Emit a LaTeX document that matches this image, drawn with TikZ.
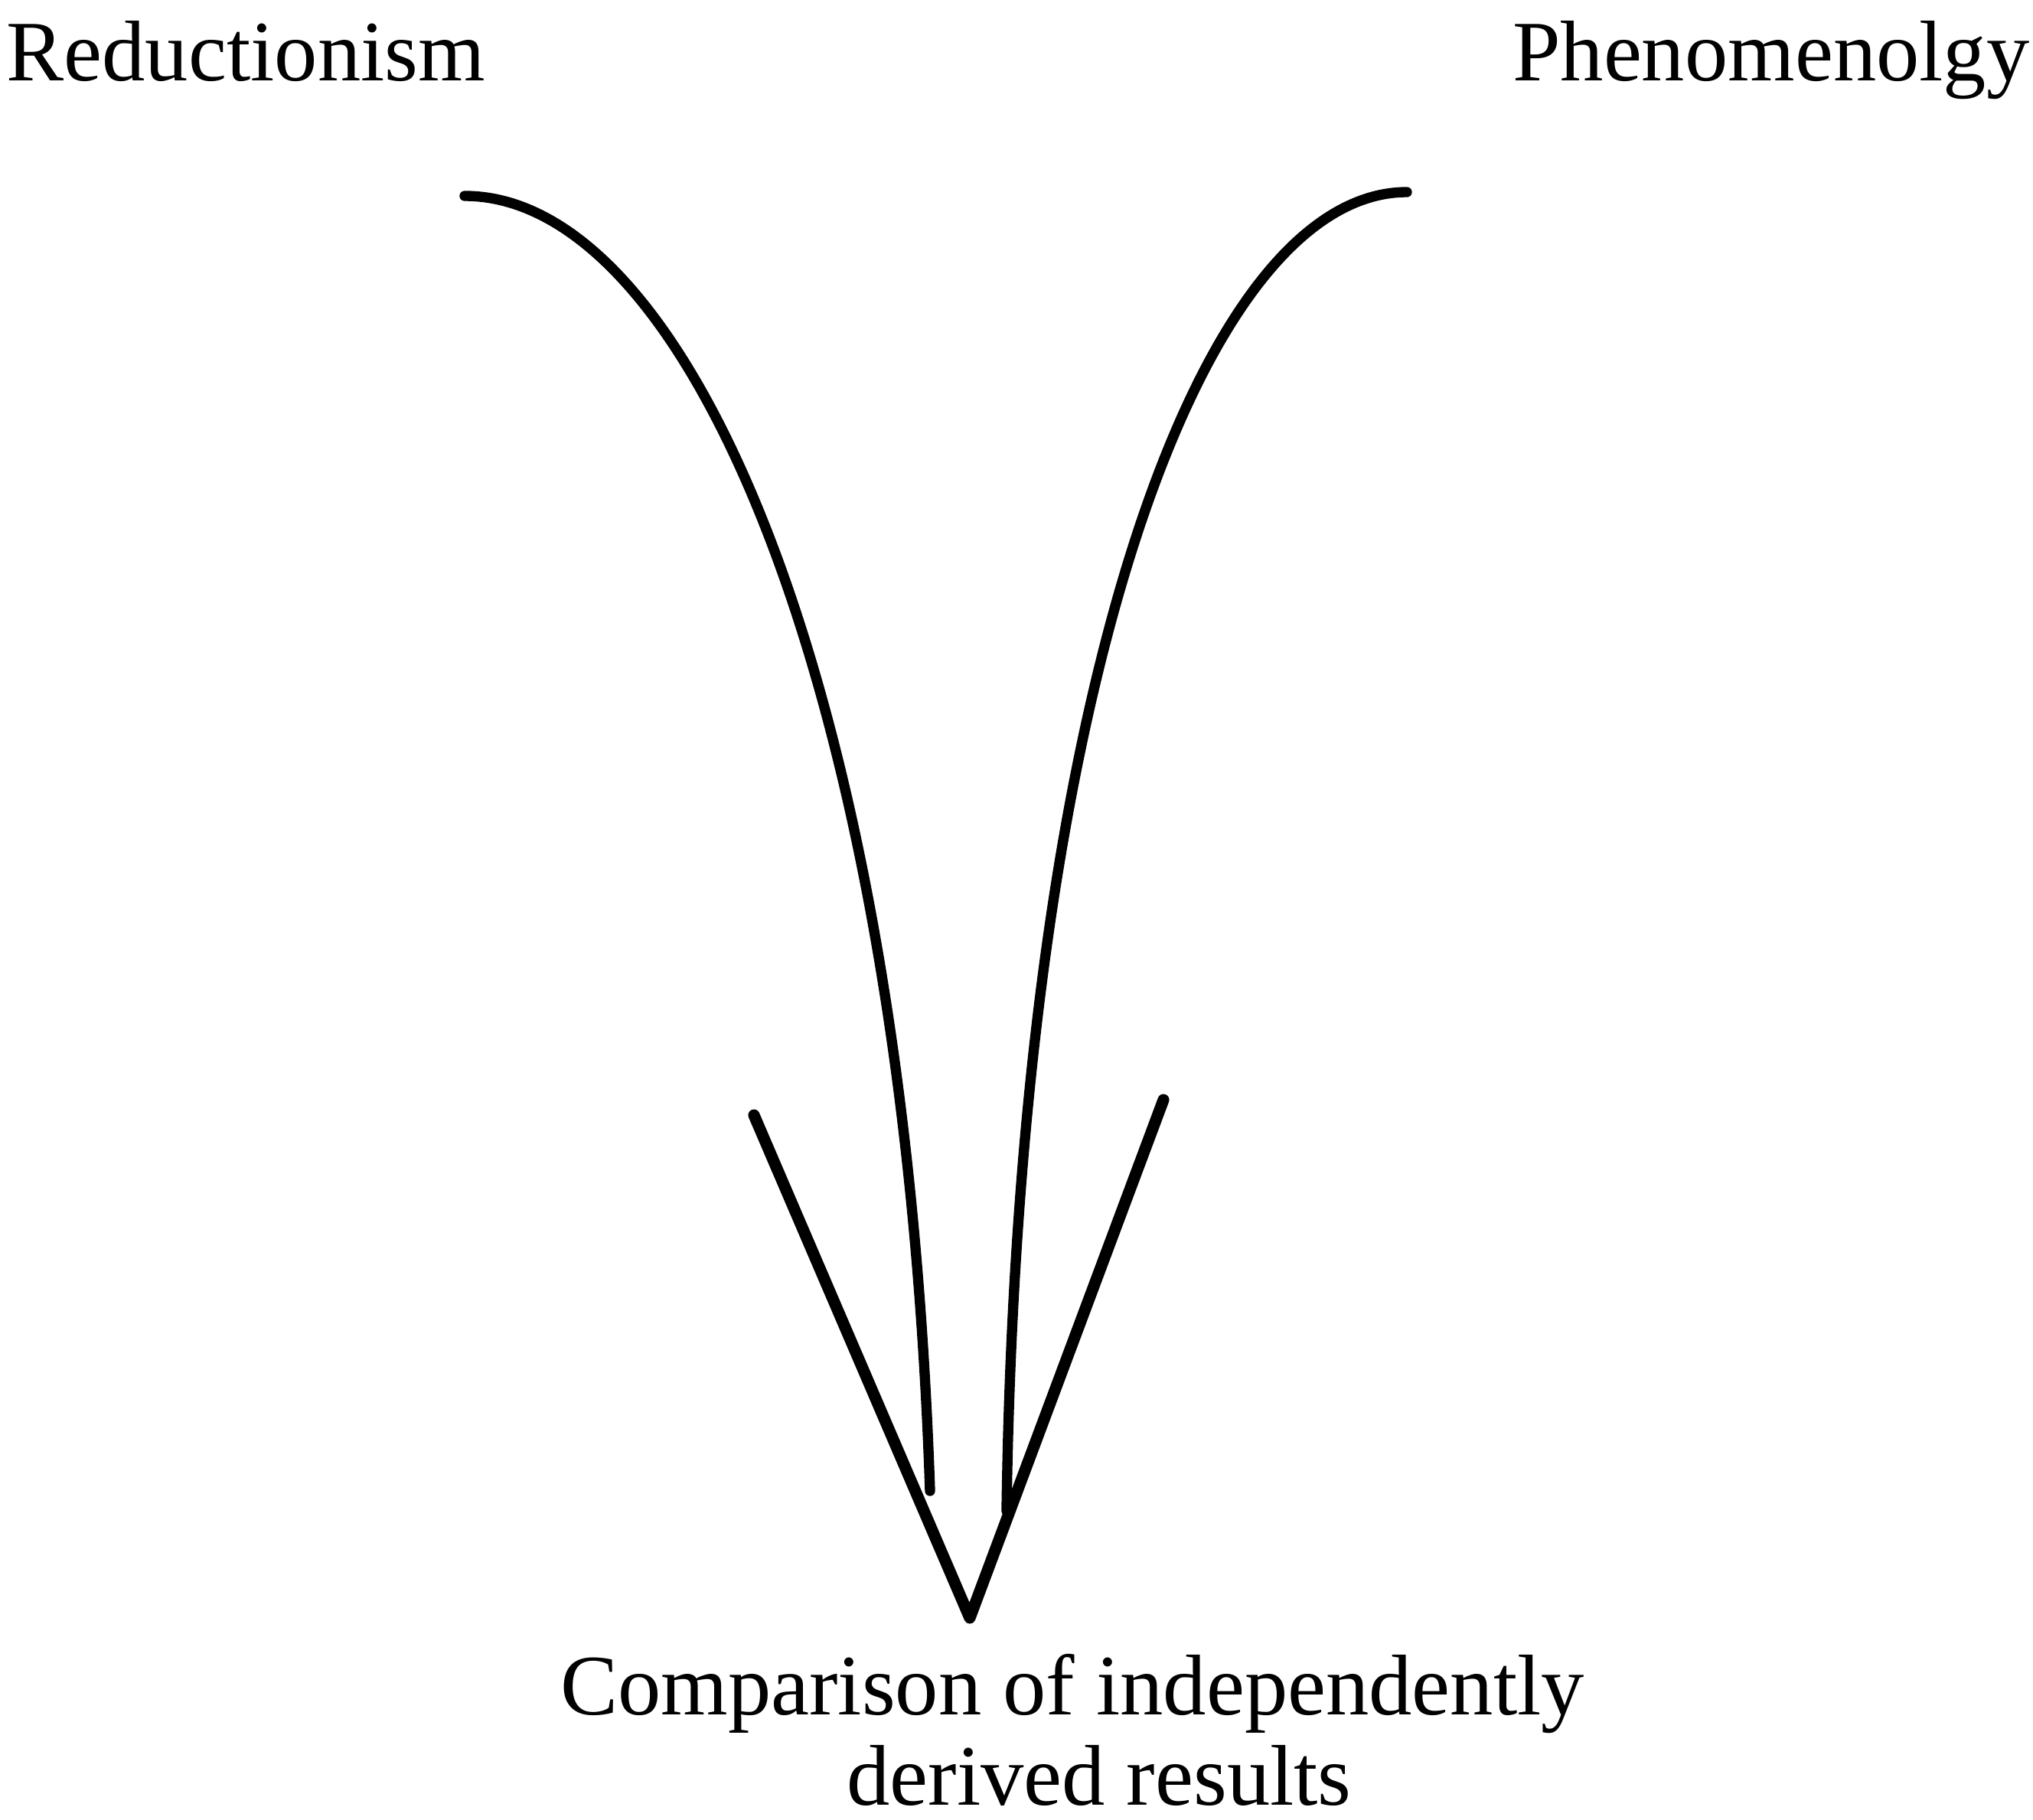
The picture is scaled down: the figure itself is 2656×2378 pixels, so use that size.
\documentclass[tikz,border=0pt]{standalone}
\usepackage{fontspec}
\setmainfont{Liberation Serif}
\begin{document}
\begin{tikzpicture}[x=0.01cm,y=-0.01cm,
  lbl/.style={inner sep=0pt, font=\fontsize{32}{33.6}\selectfont},
  curve/.style={line width=3.8pt, line cap=round, line join=round},
  vline/.style={line width=4.3pt, line cap=round, line join=round}]
\useasboundingbox (0,0) rectangle (2656,2378);
\node[lbl, anchor=base west] (red) at (8,105) {Reductionism};
\node[lbl, anchor=base east] (phe) at (2652,105) {Phenomenolgy};
\coordinate (ls) at (607,256);
\coordinate (le) at (1215,1948);
\coordinate (rs) at (1838,251);
\coordinate (re) at (1315,1974);
\coordinate (va) at (985,1457);
\coordinate (vt) at (1267,2114);
\coordinate (vb) at (1520,1437);
\draw[curve] (ls) .. controls (900,256) and (1180,900) .. (le);
\draw[curve] (rs) .. controls (1570,251) and (1330,900) .. (re);
\draw[vline] (va) -- (vt) -- (vb);
\node[lbl, anchor=base] (cmp1) at (1401,2240) {Comparison of independently};
\node[lbl, anchor=base] (cmp2) at (1436,2358) {derived results};
\end{tikzpicture}
\end{document}
